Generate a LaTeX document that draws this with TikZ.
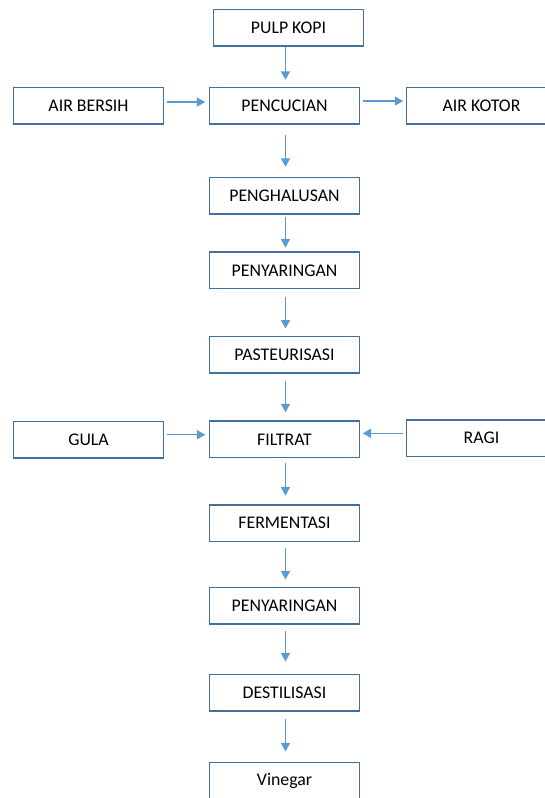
\documentclass[tikz,border=0pt]{standalone}
\usepackage{fontspec}
\setmainfont{Carlito}
\usetikzlibrary{arrows.meta}
\definecolor{boxblue}{HTML}{41719C}
\definecolor{arrblue}{HTML}{5B9BD5}
\tikzset{
  stepbox/.style={draw=boxblue, line width=1.5pt, fill=white, minimum width=150pt, minimum height=36.5pt, inner sep=0pt, font=\fontsize{17.8pt}{20pt}\selectfont},
  flow/.style={draw=arrblue, line width=1.5pt, -{Triangle[length=8.5pt,width=9pt]}}
}
\begin{document}
\begin{tikzpicture}[x=1pt,y=-1pt]
\useasboundingbox (0,0) rectangle (545,798);
\node[stepbox] (pulp) at (288.5,27.5) {PULP KOPI};
\node[stepbox] (cuci) at (284.5,105.75) {PENCUCIAN};
\node[stepbox] (airb) at (88.5,105.75) {AIR BERSIH};
\node[stepbox] (airk) at (481.5,105.75) {AIR KOTOR};
\node[stepbox] (halus) at (284.5,195.8) {PENGHALUSAN};
\node[stepbox] (saring1) at (284.5,270.3) {PENYARINGAN};
\node[stepbox] (pasteur) at (284.5,354.5) {PASTEURISASI};
\node[stepbox] (filtrat) at (284.5,439.3) {FILTRAT};
\node[stepbox] (gula) at (88.5,439.7) {GULA};
\node[stepbox] (ragi) at (481.5,438) {RAGI};
\node[stepbox] (ferm) at (284.5,523.2) {FERMENTASI};
\node[stepbox] (saring2) at (284.5,605.5) {PENYARINGAN};
\node[stepbox] (destil) at (284.5,692.8) {DESTILISASI};
\node[stepbox] (vine) at (284.5,780.5) {Vinegar};

\draw[flow, shorten <=0.7pt, shorten >=7pt] ([xshift=1pt]pulp.south -| cuci.north) -- ([xshift=1pt]cuci.north);
\draw[flow, shorten <=10.5pt, shorten >=10pt] ([xshift=1pt]cuci.south) -- ([xshift=1pt]halus.north);
\draw[flow, shorten <=2pt, shorten >=3.7pt] ([xshift=1pt]halus.south) -- ([xshift=1pt]saring1.north);
\draw[flow, shorten <=8pt, shorten >=7pt] ([xshift=1pt]saring1.south) -- ([xshift=1pt]pasteur.north);
\draw[flow, shorten <=7.7pt, shorten >=8pt] ([xshift=1pt]pasteur.south) -- ([xshift=1pt]filtrat.north);
\draw[flow, shorten <=5pt, shorten >=8.6pt] ([xshift=1pt]filtrat.south) -- ([xshift=1pt]ferm.north);
\draw[flow, shorten <=6pt, shorten >=7pt] ([xshift=1pt]ferm.south) -- ([xshift=1pt]saring2.north);
\draw[flow, shorten <=6.7pt, shorten >=12.3pt] ([xshift=1pt]saring2.south) -- ([xshift=1pt]destil.north);
\draw[flow, shorten <=7.3pt, shorten >=10pt] ([xshift=1pt]destil.south) -- ([xshift=1pt]vine.north);

\draw[flow, shorten <=2.5pt, shorten >=3.4pt] ([yshift=3.7pt]airb.east) -- ([yshift=3.7pt]cuci.west);
\draw[flow, shorten <=2.4pt, shorten >=2.5pt] ([yshift=4.7pt]cuci.east) -- ([yshift=4.7pt]airk.west);
\draw[flow, shorten <=2.5pt, shorten >=3.4pt] ([yshift=5pt]gula.east) -- ([yshift=5pt]gula.east -| filtrat.west);
\draw[flow, shorten <=2.5pt, shorten >=2.4pt] ([yshift=6pt]filtrat.east -| ragi.west) -- ([yshift=6pt]filtrat.east);
\end{tikzpicture}
\end{document}
